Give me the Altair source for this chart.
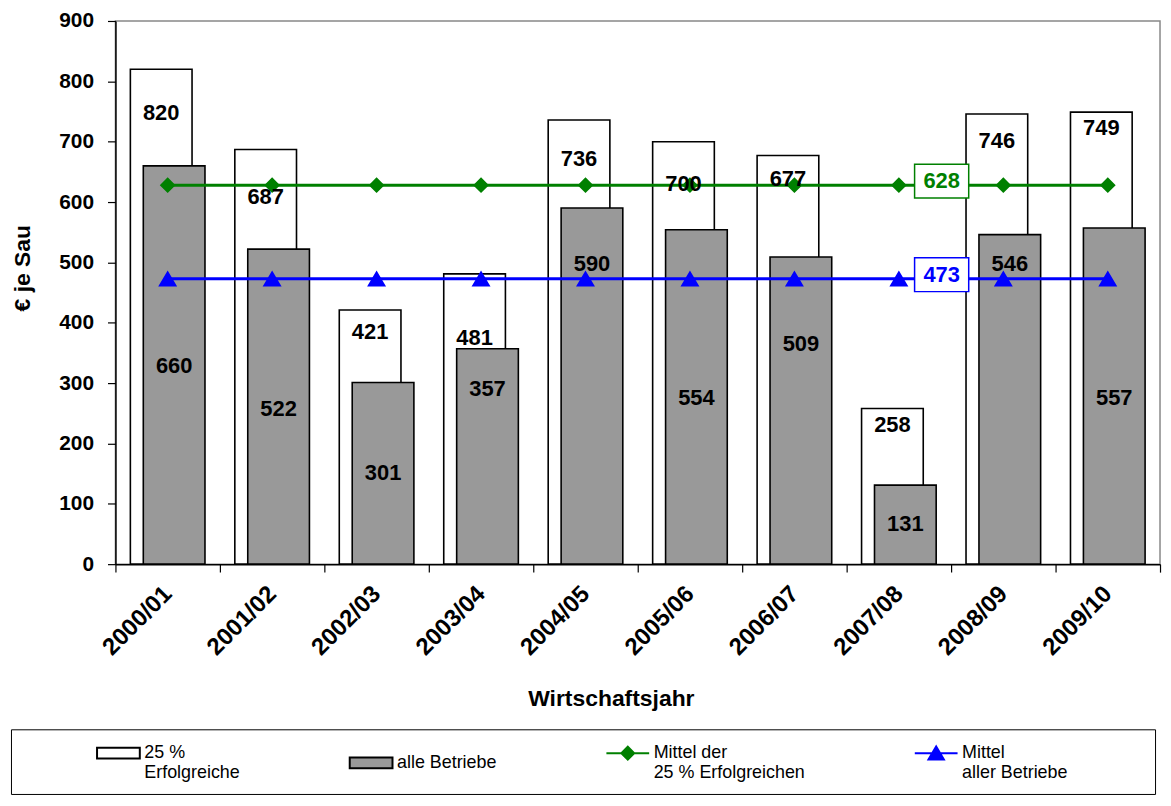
import altair as alt
import pandas as pd

# ---------------- data ----------------
years = ["2000/01", "2001/02", "2002/03", "2003/04", "2004/05",
         "2005/06", "2006/07", "2007/08", "2008/09", "2009/10"]
top25 = [820, 687, 421, 481, 736, 700, 677, 258, 746, 749]
alle = [660, 522, 301, 357, 590, 554, 509, 131, 546, 557]
mittel_top25 = [628, 628, 628, 628, 628, 628, 628, 628, 628, 628]
mittel_alle = [473, 473, 473, 473, 473, 473, 473, 473, 473, 473]
# where the value labels sit (in € units)
top25_label_at = [747, 609, 385, 375, 671, 630, 638, 230, 701, 722]
alle_label_at = [329, 257, 151, 290, 497, 276, 364, 66, 497, 276]
mean_tag_year = "2007/08"
mean_tag_values = [628, 473]

S_TOP = "25 %|Erfolgreiche"
S_ALL = "alle Betriebe"
S_MTOP = "Mittel der|25 % Erfolgreichen"
S_MALL = "Mittel|aller Betriebe"
series = [S_TOP, S_ALL, S_MTOP, S_MALL]

bars_top = pd.DataFrame({"year": years, "series": S_TOP, "value": top25,
                         "label_at": top25_label_at})
bars_all = pd.DataFrame({"year": years, "series": S_ALL, "value": alle,
                         "label_at": alle_label_at})
means = pd.DataFrame({"year": years + years,
                      "series": [S_MTOP] * len(years) + [S_MALL] * len(years),
                      "value": mittel_top25 + mittel_alle})
tags = pd.DataFrame({"year": [mean_tag_year, mean_tag_year],
                     "series": [S_MTOP, S_MALL], "value": mean_tag_values})

# ---------------- styling ----------------
FONT = "Liberation Sans"
GREEN = "#008000"
BLUE = "#0000ff"
GREY = "#999999"

RECT = "M-2,-0.5H2V0.5H-2Z"
DIAMOND_LINE = "M-2,0H2M-0.6,0L0,-0.6L0.6,0L0,0.6Z"
TRI_LINE = "M-2,0H2M0,-0.62L0.72,0.6L-0.72,0.6Z"
BOX = "M-1.6,-1H1.6V1H-1.6Z"

fill_scale = alt.Scale(domain=series, range=["white", GREY, GREEN, BLUE])
stroke_scale = alt.Scale(domain=series, range=["black", "black", GREEN, BLUE])
shape_scale = alt.Scale(domain=series, range=[RECT, RECT, DIAMOND_LINE, TRI_LINE])

# last legend entry gets trailing no-break spaces (closed by a zero-width space so they
# are not trimmed) so that the legend box reaches the right edge like in the original
PAD = "\u00a0" * 15 + "\u200b"
leg = alt.Legend(labelExpr="datum.label == '" + S_MALL + "' ? ['Mittel', 'aller Betriebe" + PAD
                 + "'] : split(datum.label, '|')")
LEG_TITLE = " "

x_enc = alt.X("year:N", sort=years,
              scale=alt.Scale(paddingInner=0, paddingOuter=0),
              axis=alt.Axis(labelAngle=-45, labelAlign="right", labelBaseline="middle",
                            labelFont=FONT, labelFontSize=24, labelFontWeight="bold",
                            labelColor="black", labelPadding=18,
                            tickBand="extent", tickSize=8, tickColor="black",
                            tickWidth=1.2, domainColor="black", domainWidth=1.5,
                            titleFont=FONT, titleFontSize=23, titleFontWeight="bold",
                            titleColor="black", titlePadding=28, titleX=498),
              title="Wirtschaftsjahr")
y_enc = alt.Y("value:Q",
              scale=alt.Scale(domain=[0, 900], nice=False),
              axis=alt.Axis(values=list(range(0, 901, 100)), grid=False,
                            labelFont=FONT, labelFontSize=21, labelFontWeight="bold",
                            labelColor="black", labelPadding=14,
                            tickSize=8, tickColor="black", tickWidth=1.2,
                            domainColor="black", domainWidth=1.5,
                            titleFont=FONT, titleFontSize=23, titleFontWeight="bold",
                            titleColor="black", titlePadding=24, titleY=248),
              title="€ je Sau")

fill_enc = alt.Fill("series:N", scale=fill_scale, legend=leg, title=LEG_TITLE)
stroke_enc = alt.Stroke("series:N", scale=stroke_scale, legend=leg, title=LEG_TITLE)
shape_enc = alt.Shape("series:N", scale=shape_scale, legend=leg, title=LEG_TITLE)

BAR_W = 62
OFF = 6.5

bar_top = alt.Chart(bars_top).mark_bar(width=BAR_W, xOffset=-OFF, strokeWidth=1.6).encode(
    x=x_enc, y=y_enc, fill=fill_enc, stroke=stroke_enc)
bar_all = alt.Chart(bars_all).mark_bar(width=BAR_W, xOffset=OFF, strokeWidth=1.6).encode(
    x=x_enc, y=y_enc, fill=fill_enc, stroke=stroke_enc)

lines = alt.Chart(means).mark_line(strokeWidth=3).encode(
    x=x_enc, y=y_enc, stroke=stroke_enc, detail="series:N")
points = alt.Chart(means).mark_point(filled=True, size=700, opacity=1).encode(
    x=x_enc, y=y_enc, fill=fill_enc, shape=shape_enc)

lab_style = dict(font=FONT, fontSize=22, fontWeight="bold", color="black",
                 baseline="middle", align="center")
lab_top = alt.Chart(bars_top).mark_text(dx=-OFF, **lab_style).encode(
    x=x_enc, y=alt.Y("label_at:Q"), text="value:Q")
lab_all = alt.Chart(bars_all).mark_text(dx=OFF, **lab_style).encode(
    x=x_enc, y=alt.Y("label_at:Q"), text="value:Q")

TAG_DX = 43
tag_box = alt.Chart(tags).mark_point(shape=BOX, size=1156, filled=True, fill="white",
                                     strokeWidth=1.5, opacity=1,
                                     xOffset=TAG_DX, yOffset=-4).encode(
    x=x_enc, y=y_enc, stroke=stroke_enc)
tag_text = alt.Chart(tags).mark_text(font=FONT, fontSize=22, fontWeight="bold",
                                     dx=TAG_DX, dy=-4, baseline="middle",
                                     align="center").encode(
    x=x_enc, y=y_enc, text="value:Q", fill=fill_enc)

chart = alt.layer(bar_top, bar_all, lines, points, lab_top, lab_all, tag_box, tag_text).properties(
    width=1050, height=546,
    padding={"left": 2, "top": 0, "right": 2, "bottom": 0},
).configure_view(
    stroke="#888888", strokeWidth=1.5
).configure_legend(
    orient="none", legendX=-105, legendY=712,
    direction="horizontal", columns=4, gridAlign="each", columnPadding=105,
    padding=12, strokeColor="black", fillColor="white",
    titleOrient="left", titlePadding=84, titleFontSize=4,
    symbolSize=462, symbolStrokeWidth=2, labelOffset=14,
    labelFont=FONT, labelFontSize=18, labelColor="black", labelLimit=600,
)

chart.save("out.html", embed_options={"renderer": "svg", "actions": False})
